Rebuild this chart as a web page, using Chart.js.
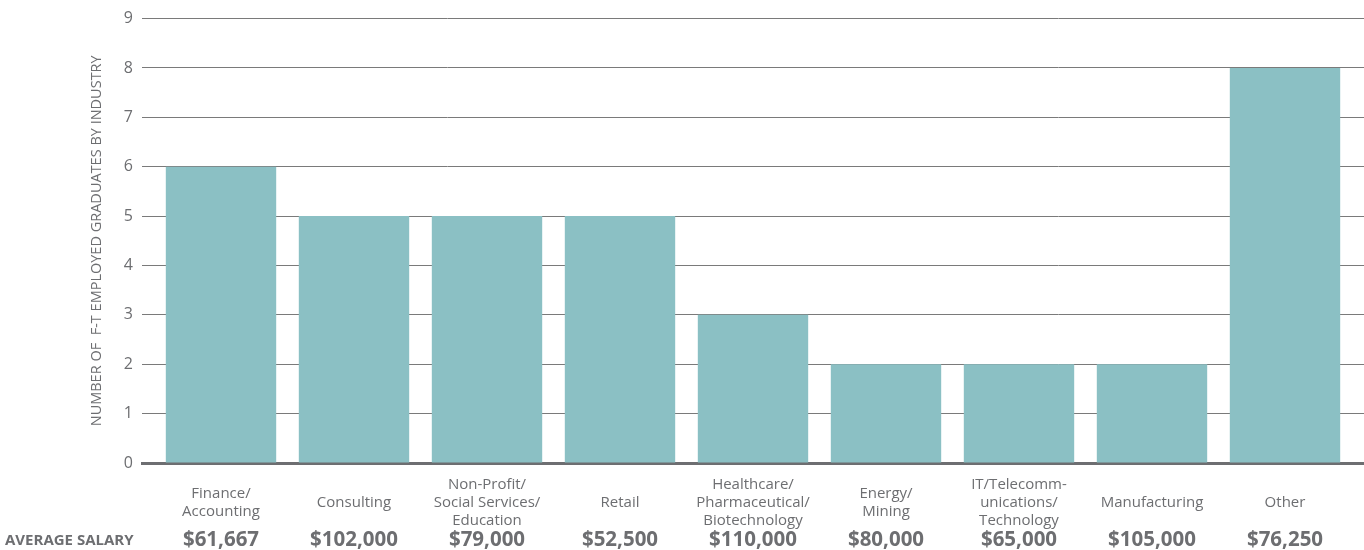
<!DOCTYPE html>
<html>
<head>
<meta charset="utf-8">
<script src="https://cdn.jsdelivr.net/npm/chart.js@4/dist/chart.umd.min.js"></script>
<style>
html,body{margin:0;padding:0;background:#fff;}
#wrap{width:1364px;height:550px;position:relative;}
</style>
</head>
<body>
<div id="wrap"><canvas id="c"></canvas></div>
<script>
const categories = [
  ["Finance/", "Accounting"],
  ["Consulting"],
  ["Non-Profit/", "Social Services/", "Education"],
  ["Retail"],
  ["Healthcare/", "Pharmaceutical/", "Biotechnology"],
  ["Energy/", "Mining"],
  ["IT/Telecomm-", "unications/", "Technology"],
  ["Manufacturing"],
  ["Other"]
];
const graduates = [6, 5, 5, 5, 3, 2, 2, 2, 8];
const salaries = ["$61,667", "$102,000", "$79,000", "$52,500", "$110,000", "$80,000", "$65,000", "$105,000", "$76,250"];
const yTicks = [0, 1, 2, 3, 4, 5, 6, 7, 8, 9];
const salaryHeader = "AVERAGE SALARY";
const yTitle = "NUMBER OF  F-T EMPLOYED GRADUATES BY INDUSTRY";

const textGray = '#6d6e71';
const FONT = '"Open Sans", sans-serif';

const salaryPlugin = {
  id: 'salaryRow',
  afterDraw(chart) {
    const ctx = chart.ctx;
    const xs = chart.scales.x;
    ctx.save();
    ctx.fillStyle = textGray;
    ctx.textBaseline = 'middle';
    ctx.textAlign = 'center';
    ctx.font = 'bold 20.5px ' + FONT;
    salaries.forEach((s, i) => {
      ctx.fillText(s, xs.getPixelForValue(i), 540);
    });
    ctx.textAlign = 'left';
    ctx.font = 'bold 15px ' + FONT;
    ctx.fillText(salaryHeader, 5, 541);
    ctx.restore();
  }
};

new Chart(document.getElementById('c'), {
  type: 'bar',
  data: {
    datasets: [{
      data: graduates.map((v, i) => ({x: i, y: v})),
      backgroundColor: '#8bc0c4',
      borderWidth: 0,
      barPercentage: 0.83,
      categoryPercentage: 1
    }]
  },
  options: {
    responsive: true,
    maintainAspectRatio: false,
    animation: false,
    layout: {padding: {top: 13, right: 0, left: 88, bottom: 0}},
    plugins: {legend: {display: false}, tooltip: {enabled: false}},
    scales: {
      x: {
        type: 'linear',
        min: -0.594,
        max: 8.594,
        offset: false,
        afterBuildTicks(scale) {
          scale.ticks = categories.map((c, i) => ({value: i}));
        },
        afterFit(scale) { scale.height = 87; },
        grid: {display: false, drawTicks: false},
        border: {display: true, color: '#6d6e71', width: 3},
        ticks: {
          autoSkip: false,
          maxRotation: 0,
          padding: 22,
          crossAlign: 'center',
          color: textGray,
          font: {family: FONT, size: 15},
          callback: (v) => categories[v]
        }
      },
      y: {
        min: 0,
        max: 9,
        afterBuildTicks(scale) {
          scale.ticks = yTicks.map(v => ({value: v}));
        },
        afterFit(scale) { scale.width = 54; },
        grid: {color: '#7a7a7a', lineWidth: 1, drawTicks: false},
        border: {display: false},
        ticks: {
          padding: 9,
          color: textGray,
          font: {family: FONT, size: 16}
        },
        title: {
          display: true,
          text: yTitle,
          color: textGray,
          font: {family: FONT, size: 14.5},
          padding: {top: 0, bottom: 0}
        }
      }
    }
  },
  plugins: [salaryPlugin]
});
</script>
</body>
</html>
